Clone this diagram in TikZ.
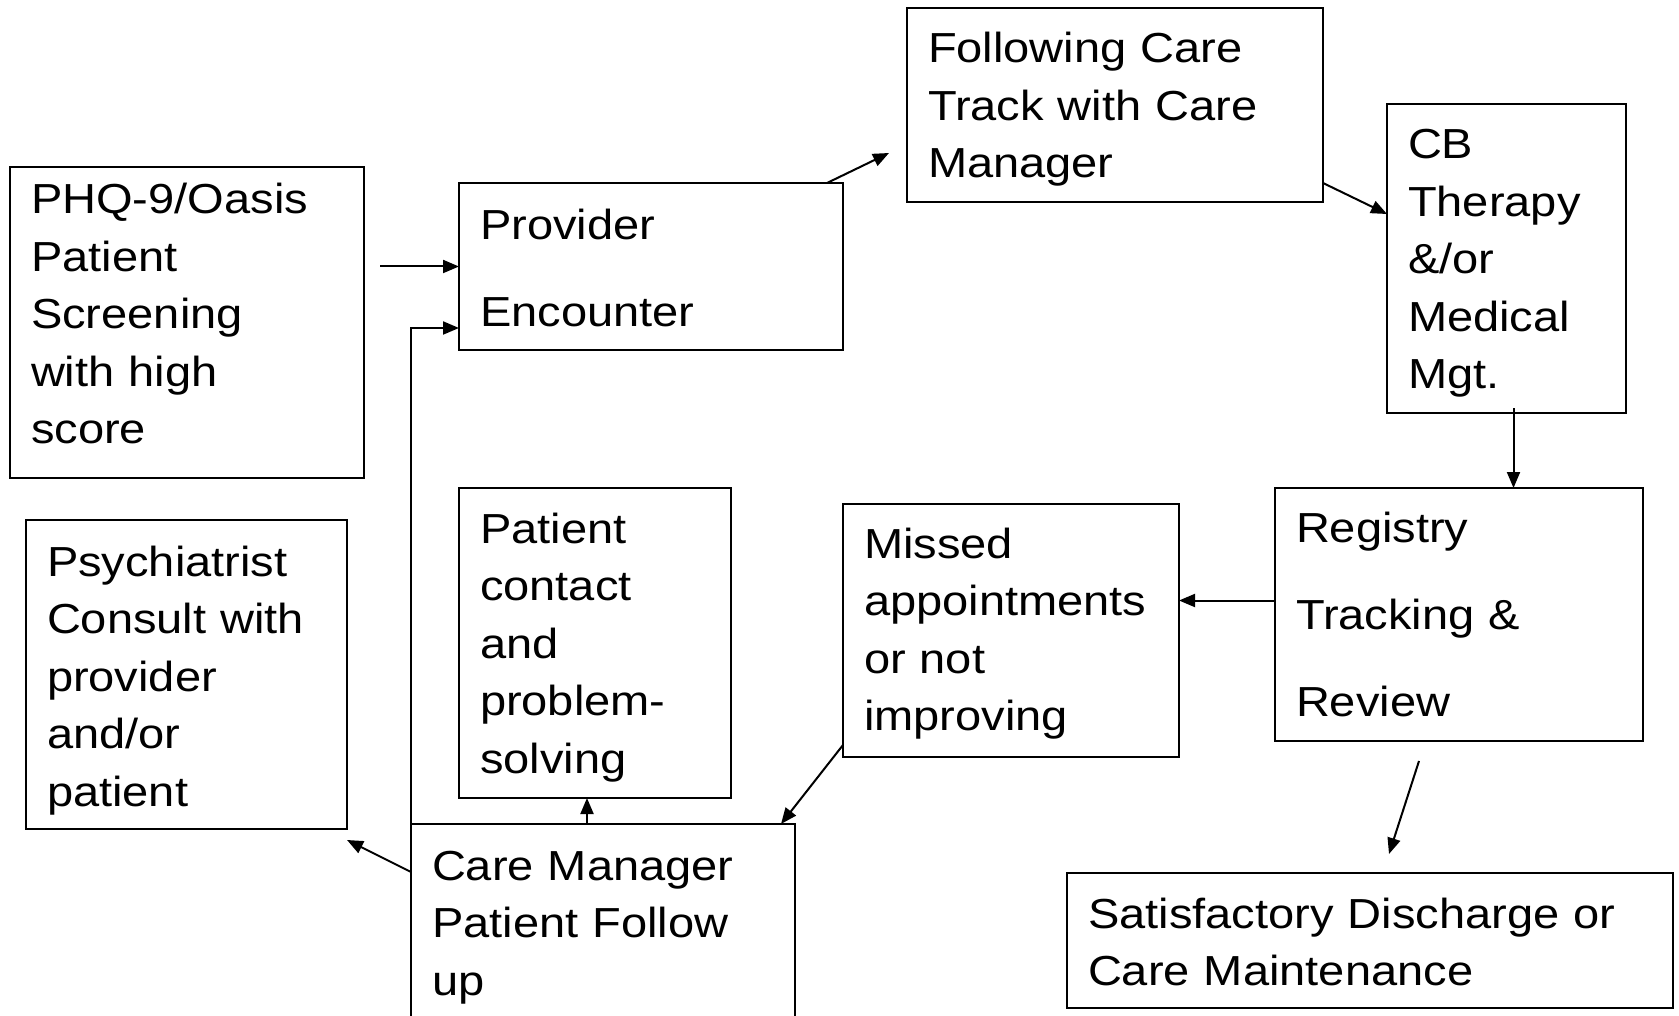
\documentclass[tikz,border=0pt]{standalone}
\usepackage{fontspec}
\setmainfont{Liberation Sans}[FakeStretch=1.12]
\usepackage{tikz}
\usetikzlibrary{arrows.meta,calc,positioning}
\tikzset{
  stage/.style={draw, line width=2.5pt, anchor=north west, outer sep=0pt, inner xsep=21pt, inner ysep=0pt, align=left, font=\fontsize{42}{57.5}\selectfont},
  spaced/.style={font=\fontsize{42}{87}\selectfont},
  flow/.style={-{Triangle[length=16pt,width=13pt]}, line width=2pt}
}

\begin{document}
\begin{tikzpicture}[x=1pt, y=-1pt]
    \useasboundingbox (0,0) rectangle (1679,1016);

    \node [stage, text width=312pt, text height=47pt, text depth=264pt] (screen) at (10,167) {PHQ-9/Oasis\\Patient\\Screening\\with high\\score};
    \node [stage, spaced, text width=342pt, text height=57pt, text depth=110pt] (provider) at (459,183) {Provider\\Encounter};
    \node [stage, text width=374pt, text height=55pt, text depth=139pt] (follow) at (907,8) {Following Care\\Track with Care\\Manager};
    \node [stage, text width=197pt, text height=55pt, text depth=254pt] (cbt) at (1387,104) {CB\\Therapy\\\&/or\\Medical\\Mgt.};
    \node [stage, spaced, text width=326pt, text height=54pt, text depth=199pt] (registry) at (1275,488) {Registry\\Tracking \&\\Review};
    \node [stage, text width=294pt, text height=54pt, text depth=199pt] (missed) at (843,504) {Missed\\appointments\\or not\\improving};
    \node [stage, text width=230pt, text height=55pt, text depth=255pt] (contact) at (459,488) {Patient\\contact\\and\\problem-\\solving};
    \node [stage, text width=279pt, text height=56pt, text depth=253pt] (psych) at (26,520) {Psychiatrist\\Consult with\\provider\\and/or\\patient};
    \node [stage, text width=342pt, text height=56pt, text depth=160pt] (cmgr) at (411,824) {Care Manager\\Patient Follow\\up};
    \node [stage, text width=564pt, text height=55pt, text depth=80pt] (discharge) at (1067,873) {Satisfactory Discharge or\\Care Maintenance};

    \coordinate (regout) at ([yshift=14pt]registry.west);
    \coordinate (contin) at ([xshift=-8pt]contact.south);
    \coordinate (cbtout) at ([xshift=7pt,yshift=5pt]cbt.south);

    \draw [flow] ([xshift=16pt]screen.east |- provider.west) -- (provider.west);
    \draw [flow] (cmgr.north west) |- ([yshift=22pt]provider.south west);
    \draw [flow] ([xshift=-16pt]provider.north east) -- ($(follow.south west)+(-18,-49)$);
    \draw [flow] ([yshift=19pt]follow.south east) -- ($(cbt.north west)+(0,110)$);
    \draw [flow] (cbtout) -- (cbtout |- registry.north);
    \draw [flow] (regout) -- (regout -| missed.east);
    \draw [flow] ([yshift=12pt]missed.south west) -- ([xshift=-14pt]cmgr.north east);
    \draw [flow] (contin |- cmgr.north) -- (contin);
    \draw [flow] ([yshift=-48pt]cmgr.north west) -- ([yshift=-11pt]psych.south east);
    \draw [flow] ([xshift=-40pt,yshift=-20pt]registry.south) -- ($(discharge.north)+(19,-19)$);
\end{tikzpicture}
\end{document}
